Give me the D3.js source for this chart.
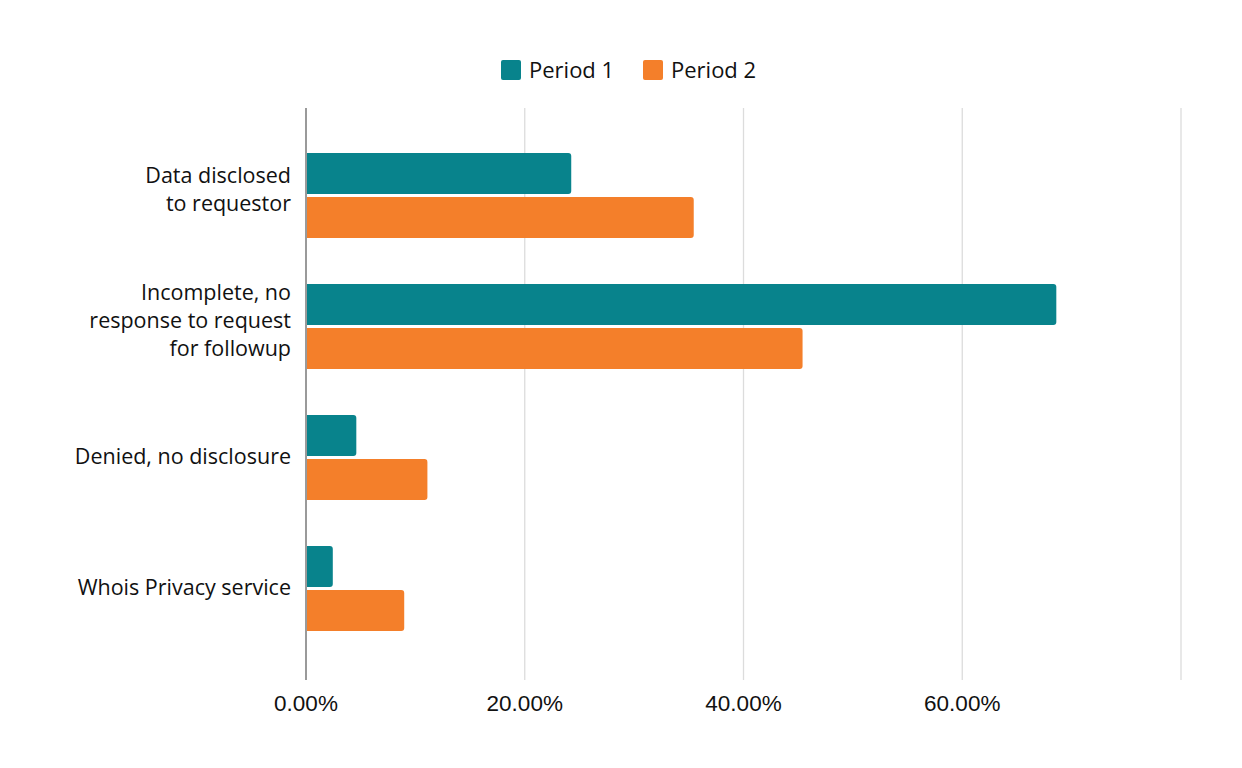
<!DOCTYPE html>
<html>
<head>
<meta charset="utf-8">
<script src="https://cdn.jsdelivr.net/npm/d3@7"></script>
<style>
  html, body { margin: 0; padding: 0; background: #fff; }
</style>
</head>
<body>
<script>
// Chart data
const categories = [
  ["Data disclosed", "to requestor"],
  ["Incomplete, no", "response to request", "for followup"],
  ["Denied, no disclosure"],
  ["Whois Privacy service"],
];
const seriesNames = ["Period 1", "Period 2"];
const period1 = [24.25, 68.6, 4.6, 2.45];
const period2 = [35.45, 45.4, 11.1, 8.98];
const xTicks = [0, 20, 40, 60, 80];
const colors = ["#08838c", "#f47f2a"];

const width = 1242, height = 768;
const labelFont = "'Open Sans', 'Noto Sans', sans-serif";

const svg = d3
  .select("body")
  .append("svg")
  .attr("width", width)
  .attr("height", height)
  .attr("viewBox", [0, 0, width, height]);

// Scales
const x = d3.scaleLinear().domain([0, 80]).range([306, 1181]);
const y = d3
  .scaleBand()
  .domain(d3.range(categories.length))
  .range([130, 654]);

const barH = 41, barGap = 1.5;

// Gridlines
svg
  .append("g")
  .selectAll("line")
  .data(xTicks.slice(1))
  .join("line")
  .attr("x1", (d) => x(d))
  .attr("x2", (d) => x(d))
  .attr("y1", 108)
  .attr("y2", 680)
  .attr("stroke", "#dcdcdc")
  .attr("stroke-width", 1.3);

// Tick labels
svg
  .append("g")
  .selectAll("text")
  .data(xTicks.slice(0, 4))
  .join("text")
  .attr("x", (d) => x(d))
  .attr("y", 711)
  .attr("text-anchor", "middle")
  .attr("font-family", "Arial, 'Liberation Sans', sans-serif")
  .attr("font-size", 22.5)
  .attr("fill", "#111")
  .text((d) => d.toFixed(2) + "%");

// Bars
const series = [period1, period2];
series.forEach((vals, si) => {
  svg
    .append("g")
    .selectAll("path")
    .data(vals)
    .join("path")
    .attr("fill", colors[si])
    .attr("d", (d, i) => {
      const cy = y(i) + y.bandwidth() / 2;
      const y0 = si === 0 ? cy - barGap - barH : cy + barGap;
      const x0 = x(0), x1 = x(d), r = 3;
      return `M${x0},${y0}H${x1 - r}Q${x1},${y0} ${x1},${y0 + r}` +
        `V${y0 + barH - r}Q${x1},${y0 + barH} ${x1 - r},${y0 + barH}H${x0}Z`;
    });
});

// Axis line
svg
  .append("line")
  .attr("x1", x(0))
  .attr("x2", x(0))
  .attr("y1", 108)
  .attr("y2", 680)
  .attr("stroke", "#9a9a9a")
  .attr("stroke-width", 2);

// Category labels
const lineH = 28;
svg
  .append("g")
  .selectAll("text")
  .data(categories)
  .join("text")
  .attr("text-anchor", "end")
  .attr("font-family", labelFont)
  .attr("font-size", 21.5)
  .attr("fill", "#111")
  .each(function (lines, i) {
    const cy = y(i) + y.bandwidth() / 2;
    const off = lines.length === 1 ? 6.5 : 1.5;
    const startY = cy - ((lines.length - 1) * lineH) / 2 + off;
    d3.select(this)
      .selectAll("tspan")
      .data(lines)
      .join("tspan")
      .attr("x", 291)
      .attr("y", (d, j) => startY + j * lineH)
      .text((d) => d);
  });

// Legend
const legendX = [501, 643];
const legend = svg
  .append("g")
  .selectAll("g")
  .data(seriesNames)
  .join("g")
  .attr("transform", (d, i) => `translate(${legendX[i]},60)`);

legend
  .append("rect")
  .attr("width", 20)
  .attr("height", 20)
  .attr("rx", 2)
  .attr("fill", (d, i) => colors[i]);

legend
  .append("text")
  .attr("x", 28)
  .attr("y", 18)
  .attr("font-family", labelFont)
  .attr("font-size", 22)
  .attr("fill", "#111")
  .text((d) => d);
</script>
</body>
</html>
